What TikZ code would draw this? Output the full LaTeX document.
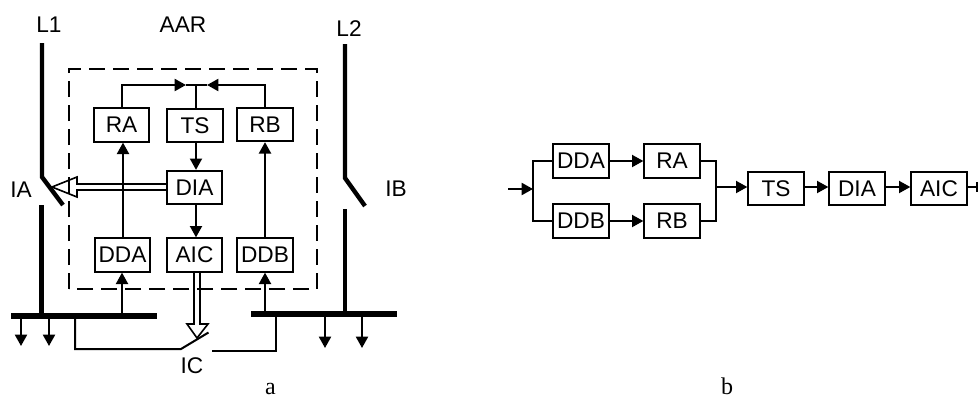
\documentclass[tikz,border=0pt]{standalone}
\usepackage{fontspec}
\setmainfont{Liberation Sans}
\newfontfamily\capfont{Liberation Serif}
\usetikzlibrary{arrows.meta,calc}
\tikzset{
  block/.style={draw=black,line width=1.5pt,minimum width=41.5pt,minimum height=25pt,inner sep=0pt,font=\fontsize{17}{18}\selectfont,text=black,fill=white},
  lab/.style={inner sep=0pt,font=\fontsize{17}{18}\selectfont},
  capt/.style={inner sep=0pt,anchor=base,font=\capfont\fontsize{18}{19}\selectfont},
  wire/.style={line width=1.5pt,line join=miter},
  sarrow/.style={wire,-{Triangle[length=8.5pt,width=9pt]}},
  busline/.style={line width=3.3pt},
  barline/.style={line width=4.5pt},
  hollow/.style={draw=black,line width=1.2pt,line join=miter},
  frame/.style={line width=1.3pt,dash pattern=on 12pt off 6pt}
}
\begin{document}
\begin{tikzpicture}[x=0.75pt,y=-0.75pt]
\useasboundingbox (0,0) rectangle (978,400);
% frame
\draw[frame] (69,289) -- (69,69) -- (317,69) -- (317,289) -- cycle;
% part a blocks
\node[block] (ra) at (121.5,125) {RA};
\node[block] (ts) at (195,125.5) {TS};
\node[block] (rb) at (265,124.5) {RB};
\node[block] (dia) at (194.5,187.5) {DIA};
\node[block] (dda) at (122.5,255) {DDA};
\node[block] (aic) at (194.5,255) {AIC};
\node[block] (ddb) at (265,255) {DDB};
% labels
\node[lab] (l1) at (49,25) {L1};
\node[lab] (aar) at (183,25) {AAR};
\node[lab] (l2) at (349,29) {L2};
\node[lab] (ia) at (21,190) {IA};
\node[lab] (ib) at (396,189) {IB};
\node[lab] (ic) at (192,366) {IC};
\node[capt] (capa) at (270.5,394) {a};
\node[capt] (capb) at (727,394) {b};
% top merge
\coordinate (mrg) at (196,85);
\coordinate (tipa) at (186,85);
\coordinate (tipb) at (207,85);
\draw[wire] (ts.north -| mrg) -- (mrg);
\draw[sarrow] (ra.north) |- (tipa);
\draw[wire] (tipa) -- (tipb);
\draw[sarrow] (rb.north) |- (tipb);
\draw[sarrow] (ts.south -| mrg) -- (dia.north -| mrg);
\draw[sarrow] (dia.south -| mrg) -- (aic.north -| mrg);
\draw[sarrow] (dda.north -| 123,0) -- (ra.south -| 123,0);
\draw[sarrow] (ddb.north) -- (ddb.north |- rb.south);
% lines and buses
\coordinate (l1top) at (42,43);
\coordinate (l1k) at (42,177);
\coordinate (l1e) at (63,205);
\coordinate (l2top) at (345,44);
\coordinate (l2k) at (345,178);
\coordinate (l2e) at (365,206);
\coordinate (busa1) at (11,315.5);
\coordinate (busa2) at (157,315.5);
\coordinate (busb1) at (251,314);
\coordinate (busb2) at (397,314);
\draw[busline,line join=miter] (l1top) -- (l1k) -- (l1e);
\draw[busline,line join=miter] (l2top) -- (l2k) -- (l2e);
\draw[busline] (41.5,205) -- (41.5,315);
\draw[busline] (345,209) -- (345,312);
\draw[barline] (busa1) -- (busa2);
\draw[barline] (busb1) -- (busb2);
% bus to detectors
\draw[sarrow] (122,314) -- (dda.south -| 122,0);
\draw[sarrow] (ddb.south |- busb1) -- (ddb.south);
% loads
\foreach \x in {21,49}{\draw[sarrow] (\x,317) -- (\x,346);}
\foreach \x in {325,362}{\draw[sarrow] (\x,316) -- (\x,348);}
% coupler switch
\coordinate (ica) at (75,317);
\coordinate (icb) at (75,349);
\coordinate (icc) at (181,349);
\coordinate (icd) at (208.5,332.5);
\coordinate (ice) at (212,351);
\coordinate (icf) at (275.5,351);
\coordinate (icg) at (275.5,316);
\draw[wire] (ica) -- (icb) -- (icc) -- (icd);
\draw[wire] (ice) -- (icf) -- (icg);
% hollow arrows
\draw[hollow] (dia.west |- 0,184) -- (77,184) -- (77,177) -- (52,187) -- (77,197) -- (77,190) -- (dia.west |- 0,190);
\draw[hollow] (194,272) -- (194,324) -- (187,324) -- (197,338) -- (208,324) -- (200,324) -- (200,272);
% part b
\node[block] (bdda) at (581,161) {DDA};
\node[block] (bra) at (672,161) {RA};
\node[block] (bddb) at (581,221) {DDB};
\node[block] (brb) at (672,221) {RB};
\node[block] (bts) at (776,188.5) {TS};
\node[block] (bdia) at (857,188.5) {DIA};
\node[block] (baic) at (939,188.5) {AIC};
\coordinate (bin) at (508,189);
\coordinate (bs) at (533,189);
\coordinate (bm) at (716,187);
\coordinate (bout) at (978,187);
\draw[sarrow] (bin) -- (bs);
\draw[wire] (bdda.west) -| (bs) |- (bddb.west);
\draw[sarrow] (bdda.east) -- (bra.west);
\draw[sarrow] (bddb.east) -- (brb.west);
\draw[wire] (bra.east) -| (bm) |- (brb.east);
\draw[sarrow] (bm) -- (bts.west |- bm);
\draw[sarrow] (bts.east |- bm) -- (bdia.west |- bm);
\draw[sarrow] (bdia.east |- bm) -- (baic.west |- bm);
\draw[wire] (baic.east |- bm) -- (bout);
\draw[line width=1.4pt] (977,182) -- (977,192);
\end{tikzpicture}
\end{document}
